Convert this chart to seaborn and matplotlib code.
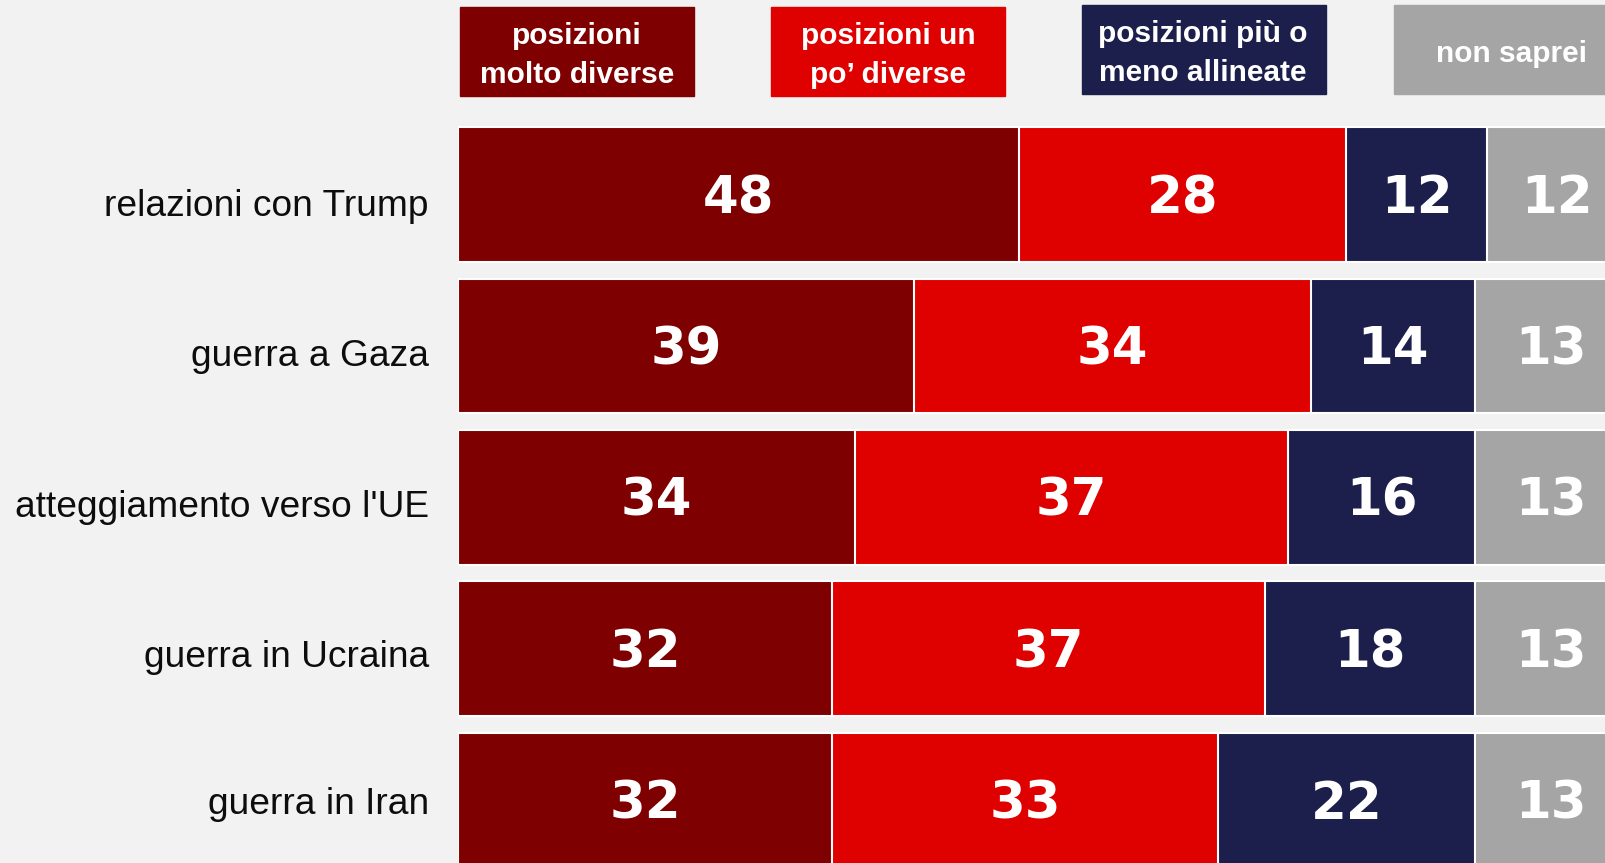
import numpy as np
import pandas as pd
import seaborn as sns
import matplotlib.pyplot as plt
from matplotlib.patches import Rectangle
from matplotlib.transforms import ScaledTranslation

# data
topics = ["relazioni con Trump", "guerra a Gaza", "atteggiamento verso l'UE",
          "guerra in Ucraina", "guerra in Iran"]
molto_diverse = [48, 39, 34, 32, 32]
un_po_diverse = [28, 34, 37, 37, 33]
allineate = [12, 14, 16, 18, 22]
non_saprei = [12, 13, 13, 13, 13]

legend_labels = ["posizioni\nmolto diverse", "posizioni un\npo’ diverse",
                 "posizioni più o\nmeno allineate", "non saprei"]
colors = ["#7f0000", "#df0000", "#1c1f4c", "#a5a5a5"]
bg = "#f2f2f2"

W, H = 1606, 863
sns.set_style("white")
plt.rcParams['font.family'] = ['Liberation Sans', 'DejaVu Sans']

fig = plt.figure(figsize=(W / 100, H / 100), dpi=100, facecolor=bg)
ax = fig.add_axes([458 / W, 0, 1 - 458 / W, 1])
ax.set_facecolor(bg)

df = pd.DataFrame(np.array([molto_diverse, un_po_diverse, allineate, non_saprei]).T,
                  columns=legend_labels)
df["topic"] = topics
cum = df[legend_labels].cumsum(axis=1)

# stacked bars: draw cumulative totals from the back to the front
for lab, col in zip(reversed(legend_labels), reversed(colors)):
    sns.barplot(x=cum[lab], y=df["topic"], order=topics, color=col, saturation=1,
                width=0.89, edgecolor="white", linewidth=1.5, orient="h",
                errorbar=None, ax=ax)

for i in range(len(topics)):
    left = 0
    for lab in legend_labels:
        v = int(df[lab][i])
        ax.text(left + v / 2, i + 0.03, str(v), ha="center", va="center", color="white",
                fontsize=37, fontweight="bold", family="DejaVu Sans")
        left += v

ax.set_xlim(0, 98.2)
ax.set_ylim(4.416, -1.285)
ax.set_xticks([])
ax.set_xlabel("")
ax.set_ylabel("")
ax.tick_params(axis="y", length=0, pad=21, labelsize=26.7, labelcolor="#0d0d0d")
# category labels sit a little lower than the bar centres, less so further down
for t, dy in zip(ax.get_yticklabels(), [0.08, 0.07, 0.065, 0.05, 0.0]):
    t.set_transform(t.get_transform() + ScaledTranslation(0, -dy, fig.dpi_scale_trans))
sns.despine(ax=ax, left=True, bottom=True)

# legend boxes across the top
boxes = [(460, 7, 234, 89), (771, 7, 234, 89), (1082, 5, 244, 89), (1394, 5, 240, 89)]
text_x = [577, 888, 1203, 1512]
for (x, y, w, h), tx, lab, col in zip(boxes, text_x, legend_labels, colors):
    fig.add_artist(Rectangle((x / W, 1 - (y + h) / H), w / W, h / H,
                             transform=fig.transFigure, color=col, zorder=5))
    fig.text(tx / W, 1 - (y + h / 2 + 4) / H, lab, ha="center", va="center",
             color="white", fontsize=21.5, fontweight="bold", linespacing=1.5, zorder=6)

fig.savefig("out.png", dpi=100, facecolor=bg)
